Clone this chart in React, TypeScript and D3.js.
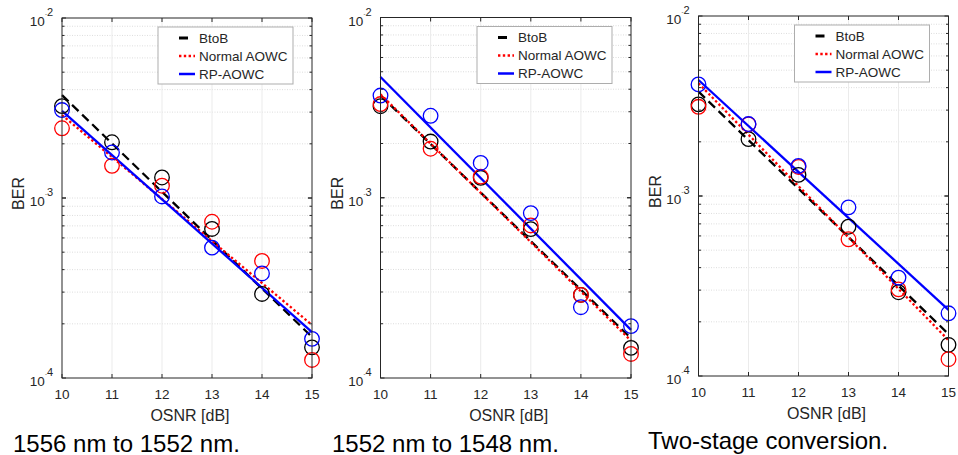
import React, { useRef, useEffect } from "react";
import * as d3 from "d3";

// OSNR points (dB) and the two ends of the fit lines
const osnr = [10, 11, 12, 13, 14, 15];
const fitOsnr = [10, 15];
const yTicks = [1e-4, 1e-3, 1e-2];
const seriesNames = ["BtoB", "Normal AOWC", "RP-AOWC"];

// 1556 nm to 1552 nm
const btobA = [3.24e-3, 2.04e-3, 1.3e-3, 6.73e-4, 2.93e-4, 1.48e-4];
const normalA = [2.44e-3, 1.51e-3, 1.17e-3, 7.38e-4, 4.47e-4, 1.26e-4];
const rpA = [3.08e-3, 1.79e-3, 1.02e-3, 5.3e-4, 3.81e-4, 1.65e-4];
const btobFitA = [3.73e-3, 1.69e-4];
const normalFitA = [2.89e-3, 1.97e-4];
const rpFitA = [3.05e-3, 1.8e-4];

// 1552 nm to 1548 nm
const btobB = [3.22e-3, 2.05e-3, 1.29e-3, 6.7e-4, 2.89e-4, 1.47e-4];
const normalB = [3.31e-3, 1.87e-3, 1.31e-3, 7.02e-4, 2.89e-4, 1.36e-4];
const rpB = [3.69e-3, 2.85e-3, 1.56e-3, 8.22e-4, 2.47e-4, 1.94e-4];
const btobFitB = [3.7e-3, 1.66e-4];
const normalFitB = [3.75e-3, 1.61e-4];
const rpFitB = [4.68e-3, 1.85e-4];

// two-stage conversion
const btobC = [3.23e-3, 2.07e-3, 1.31e-3, 6.75e-4, 2.92e-4, 1.49e-4];
const normalC = [3.13e-3, 2.5e-3, 1.45e-3, 5.75e-4, 3.03e-4, 1.24e-4];
const rpC = [4.17e-3, 2.51e-3, 1.47e-3, 8.65e-4, 3.52e-4, 2.23e-4];
const btobFitC = [3.8e-3, 1.71e-4];
const normalFitC = [4.23e-3, 1.58e-4];
const rpFitC = [4.41e-3, 2.33e-4];

const captions = ["1556 nm to 1552 nm.", "1552 nm to 1548 nm.", "Two-stage conversion."];

const colors = ["#000000", "#ff0000", "#0000ff"];
const dashes = ["9,5", "2.4,2.4", null];
const FONT = "'Liberation Sans', Arial, sans-serif";
const AX = "#262626";

const panels = [
  { left: 62, right: 312, top: 18, bottom: 378, capX: 13, capY: 451.5, pts: [btobA, normalA, rpA], fits: [btobFitA, normalFitA, rpFitA] },
  { left: 380.5, right: 631, top: 17.5, bottom: 378, capX: 332, capY: 451.5, pts: [btobB, normalB, rpB], fits: [btobFitB, normalFitB, rpFitB] },
  { left: 698.5, right: 948.5, top: 16, bottom: 376, capX: 648, capY: 448.5, pts: [btobC, normalC, rpC], fits: [btobFitC, normalFitC, rpFitC] },
];

function drawPanel(svg, p, i) {
  const x = d3.scaleLinear().domain([10, 15]).range([p.left, p.right]);
  const y = d3.scaleLog().domain([1e-4, 1e-2]).range([p.bottom, p.top]);
  const g = svg.append("g");

  // grid
  const minor = [];
  for (let e = -4; e < -2; e++) for (let m = 1; m < 10; m++) if (m > 1 || e > -4) minor.push(m * Math.pow(10, e));
  g.selectAll(".hgrid").data(minor).join("line")
    .attr("x1", p.left).attr("x2", p.right)
    .attr("y1", (d) => y(d)).attr("y2", (d) => y(d))
    .attr("stroke", "#d4d4d4").attr("stroke-width", 0.8).attr("stroke-dasharray", "1,1.5");
  g.selectAll(".vgrid").data(osnr.slice(1, -1)).join("line")
    .attr("x1", (d) => x(d)).attr("x2", (d) => x(d))
    .attr("y1", p.top).attr("y2", p.bottom)
    .attr("stroke", "#ebebeb").attr("stroke-width", 1);

  // fit lines
  p.fits.forEach((f, k) => {
    const line = d3.line().x((d, j) => x(fitOsnr[j])).y((d) => y(d));
    g.append("path").attr("d", line(f)).attr("fill", "none")
      .attr("stroke", colors[k]).attr("stroke-width", 2.3)
      .attr("stroke-dasharray", dashes[k]);
  });

  // measured points
  p.pts.forEach((s, k) => {
    g.selectAll(".pt" + k).data(s).join("circle")
      .attr("cx", (d, j) => x(osnr[j])).attr("cy", (d) => y(d)).attr("r", 7.3)
      .attr("fill", "none").attr("stroke", colors[k]).attr("stroke-width", 1.3);
  });

  // box + ticks
  g.append("rect").attr("x", p.left).attr("y", p.top)
    .attr("width", p.right - p.left).attr("height", p.bottom - p.top)
    .attr("fill", "none").attr("stroke", AX).attr("stroke-width", 1);
  osnr.forEach((d) => {
    g.append("line").attr("x1", x(d)).attr("x2", x(d)).attr("y1", p.bottom).attr("y2", p.bottom - 4).attr("stroke", AX);
    g.append("line").attr("x1", x(d)).attr("x2", x(d)).attr("y1", p.top).attr("y2", p.top + 4).attr("stroke", AX);
    g.append("text").attr("x", x(d)).attr("y", p.bottom + 20.5).attr("text-anchor", "middle")
      .attr("font-size", 13.5).attr("fill", AX).attr("font-family", FONT).text(d);
  });
  minor.concat(yTicks).forEach((d) => {
    const len = yTicks.includes(d) ? 4 : 2.5;
    g.append("line").attr("x1", p.left).attr("x2", p.left + len).attr("y1", y(d)).attr("y2", y(d)).attr("stroke", AX);
    g.append("line").attr("x1", p.right).attr("x2", p.right - len).attr("y1", y(d)).attr("y2", y(d)).attr("stroke", AX);
  });
  yTicks.forEach((d) => {
    const t = g.append("text").attr("x", p.left - 9).attr("y", y(d) + 8).attr("text-anchor", "end")
      .attr("font-size", 13.5).attr("fill", AX).attr("font-family", FONT);
    t.append("tspan").text("10");
    t.append("tspan").attr("dy", -10).attr("font-size", 6).text("-");
    t.append("tspan").attr("font-size", 11).text(String(Math.round(Math.log10(d))).replace("-", ""));
  });

  // axis labels
  g.append("text").attr("x", (p.left + p.right) / 2 + 3).attr("y", p.bottom + 42.5)
    .attr("text-anchor", "middle").attr("font-size", 16).attr("fill", AX).attr("font-family", FONT)
    .text("OSNR [dB]");
  g.append("text").attr("transform", `translate(${p.left - 38},${(p.top + p.bottom) / 2 - 4.5}) rotate(-90)`)
    .attr("text-anchor", "middle").attr("font-size", 16).attr("fill", AX).attr("font-family", FONT)
    .text("BER");

  // legend
  const lx = p.right - 154, ly = p.top + 9;
  const lg = g.append("g").attr("transform", `translate(${lx},${ly})`);
  lg.append("rect").attr("width", 135).attr("height", 57).attr("fill", "white").attr("stroke", "#adadad").attr("stroke-width", 1);
  seriesNames.forEach((name, k) => {
    const ry = 11 + k * 18;
    lg.append("line").attr("x1", 21).attr("x2", k === 0 ? 30 : 37).attr("y1", ry).attr("y2", ry)
      .attr("stroke", colors[k]).attr("stroke-width", k === 0 ? 3 : 2.5)
      .attr("stroke-dasharray", k === 1 ? "2.4,2.4" : null);
    lg.append("text").attr("x", 41).attr("y", ry + 4.8).attr("font-size", 13.5).attr("fill", AX)
      .attr("font-family", FONT).text(name);
  });

  // caption
  svg.append("text").attr("x", p.capX).attr("y", p.capY).attr("font-size", 24).attr("fill", "#000")
    .attr("font-family", FONT).text(captions[i]);
}

export default function App() {
  const svgRef = useRef(null);

  useEffect(() => {
    const svg = d3.select(svgRef.current);
    svg.selectAll("*").remove();
    panels.forEach((p, i) => drawPanel(svg, p, i));
  }, []);

  return (
    <svg ref={svgRef} width={958} height={455}
      style={{ position: "absolute", left: 0, top: 0, background: "white" }} />
  );
}
